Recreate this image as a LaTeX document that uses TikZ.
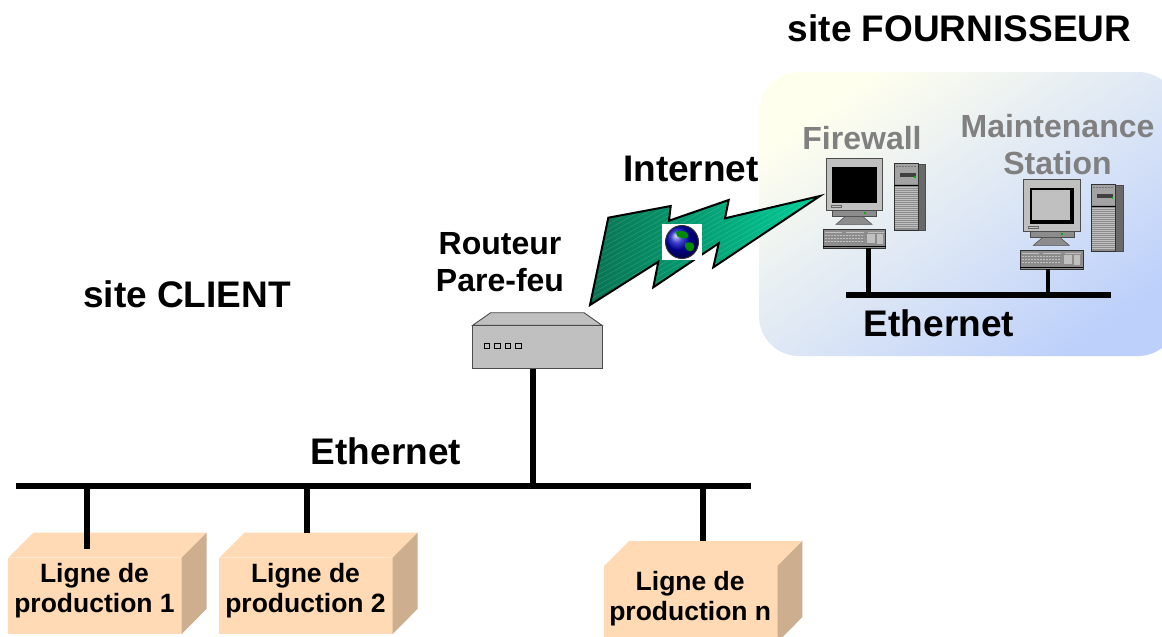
\documentclass[tikz,border=0pt]{standalone}
\usepackage{fontspec}
\setmainfont{Liberation Sans}
\usetikzlibrary{calc,shadings}
\definecolor{peach}{HTML}{FFDAB4}
\definecolor{peachside}{HTML}{CDAE8F}
\definecolor{gbody}{HTML}{C0C0C0}
\definecolor{gdark}{HTML}{8C8C8C}
\definecolor{glabel}{HTML}{808080}
\definecolor{panelA}{HTML}{FFFFEE}
\definecolor{panelB}{HTML}{BDD0FB}
\definecolor{boltA}{HTML}{08704F}
\definecolor{boltB}{HTML}{00D29B}
\tikzset{
  bus/.style={line width=6.5pt,black},
  drop/.style={line width=6pt,black},
  thindrop/.style={line width=4.7pt,black},
  big/.style={font=\bfseries\fontsize{37}{37}\selectfont,inner sep=0pt},
  mid/.style={font=\bfseries\fontsize{32}{37}\selectfont,inner sep=0pt,align=center},
  midgray/.style={mid,text=glabel},
  boxfront/.style={fill=peach,inner sep=0pt,outer sep=0pt,minimum width=173.4pt,minimum height=76.3pt},
  boxtext/.style={inner sep=0pt,align=center,font=\bfseries\fontsize{26.5}{30}\selectfont},
}
\newcommand{\prodbox}[4]{% name, x, y(front top), text
  \node[boxfront,anchor=north west] (#1) at (#2,#3) {};
  \fill[peach] (#1.north west) -- ++(25,-25) -- ++(173.4,0) -- (#1.north east) -- cycle;
  \fill[peachside] (#1.north east) -- ++(25,-25) -- ++(0,76) -- (#1.south east) -- cycle;
  \node[boxtext] (#1text) at ($(#1.center)+(-0.5,-5.5)$) {#4};
}
\newcommand{\pccomputer}[4]{% x, y, name, inner screen colour
  \begin{scope}[shift={(#1,#2)}]
    % tower
    \fill[gdark!75!black,draw=black!70,line width=0.7pt] (92.3,6) rectangle (99.7,71.7);
    \fill[gdark,draw=black!80,line width=0.7pt] (68.3,4.7) rectangle (92.3,71.7);
    \fill[gbody!85!black] (69,5.4) rectangle (91.6,26);
    \draw[black,line width=1pt] (68.3,26.7) -- (92.3,26.7);
    \fill[black!75] (74,14.3) rectangle (89.7,18.3);
    \fill[green!70!black] (88.2,17.5) rectangle (89.8,19.3);
    \foreach \ty in {29,31,...,69}{\draw[gbody,line width=0.6pt] (69,\ty) -- (91.6,\ty);}
    \draw[black!55,line width=0.8pt,dash pattern=on 2pt off 1pt] (70,8) -- (90,8);
    % monitor
    \fill[gdark,draw=black!70,line width=0.7pt] (6.7,52.4) rectangle (50.7,58.4);
    \fill[gdark,draw=black!70,line width=0.5pt] (19,58.4) -- (37,58.4) -- (46,66) -- (10,66) -- cycle;
    \fill[gbody,draw=black!70,line width=0.8pt] (0,0) rectangle (56.7,52.4);
    \fill[black] (6.3,8.4) rectangle (50.7,45);
    \fill[#4] (8.4,10.4) rectangle (46.7,41);
    \draw[black!60,line width=0.5pt] (5,47) rectangle (15,49.3);
    \fill[green!70!black] (38,53.5) rectangle (40,55.5);
    % keyboard
    \node[fill=gdark,draw=black!80,line width=0.8pt,inner sep=0pt,outer sep=0pt,
          minimum width=62.7pt,minimum height=18.7pt,anchor=north west] (#3) at (-3,71) {};
    \draw[gbody,line width=1pt] (-1,74) -- (16,74) (20,74) -- (38,74) (42,74) -- (58,74);
    \draw[gbody,line width=1pt,dash pattern=on 2pt off 1pt] (-1,77) -- (38,77) (-1,80) -- (38,80) (-1,83) -- (38,83);
    \fill[gbody] (41,76) rectangle (49,85);
    \fill[gbody] (51,76) rectangle (57,86);
    \draw[black,line width=1pt] (-3,87.8) -- (59.7,87.8);
  \end{scope}
}
\begin{document}
\begin{tikzpicture}[x=1pt,y=-1pt]
\clip (0,0) rectangle (1162,637);
\fill[white] (0,0) rectangle (1162,637);
% supplier panel
\shade[left color=panelA,right color=panelB,shading angle=35,rounded corners=40pt]
  (759,72) rectangle (1178,356);

% lightning
\coordinate (b1) at (590,305);
\coordinate (b2) at (608.3,217.7);
\coordinate (b3) at (670.7,206);
\coordinate (b4) at (669,220.7);
\coordinate (b5) at (728.7,200);
\coordinate (b6) at (725,218.3);
\coordinate (b7) at (820,196);
\coordinate (b8) at (713.3,267.3);
\coordinate (b9) at (718.7,243.3);
\coordinate (b10) at (653.3,287.3);
\coordinate (b11) at (658.3,261.7);
\begin{scope}
  \clip (b1) -- (b2) -- (b3) -- (b4) -- (b5) -- (b6) -- (b7) -- (b8) -- (b9) -- (b10) -- (b11) -- cycle;
  \shade[left color=boltA,right color=boltB] (585,190) rectangle (825,310);
  \foreach \k in {0,5,...,200}{\draw[white,opacity=0.14,line width=0.6pt] (580,200+\k) -- (830,60+\k);}
\end{scope}
\draw[black,line width=2pt,line join=miter,miter limit=10] (b1) -- (b2) -- (b3) -- (b4) -- (b5) -- (b6) -- (b7) -- (b8) -- (b9) -- (b10) -- (b11) -- cycle;

% globe
\node[fill=white,inner sep=0pt,minimum width=40pt,minimum height=36pt] (globebox) at (682,242) {};
\shade[ball color=blue!75!black] (globebox.center) circle (16.5pt);
\fill[green!55!black] (676,232) .. controls (684,229) and (690,233) .. (688,237) .. controls (686,240) and (680,238) .. (677,236) -- cycle;
\fill[green!55!black] (685,243) .. controls (693,241) and (696,244) .. (693,250) .. controls (689,254) and (684,249) .. (685,243) -- cycle;
\draw[black!80,line width=1pt] (globebox.center) circle (16.5pt);

% router
\node[fill=gbody,draw=black!70,line width=0.9pt,inner sep=0pt,outer sep=0pt,minimum width=129.3pt,minimum height=43.4pt,anchor=north west] (router) at (472.7,325.3) {};
\draw[fill=gbody,draw=black!70,line width=0.9pt] (router.north west) -- (490.7,312.7) -- (584,312.7) -- (router.north east) -- cycle;
\foreach \lx in {484.3,494.8,505,515.4}{\draw[black,line width=0.9pt,fill=gbody] (\lx,343.2) rectangle ++(5.6,5.6);}

% production lines
\prodbox{ligneA}{8.3}{557.7}{Ligne de\\production 1}
\prodbox{ligneB}{219.3}{557.7}{Ligne de\\production 2}
\prodbox{ligneN}{604}{566}{Ligne de\\production n}

% client Ethernet
\coordinate (busL) at (16,486);
\coordinate (busR) at (751,486);
\coordinate (tapA) at (87,486);
\coordinate (tapB) at (307,486);
\coordinate (tapR) at (533,486);
\coordinate (tapN) at (703,486);
\coordinate (endA) at (87,549);
\coordinate (endB) at (307,532.7);
\coordinate (endN) at (703,541);
\draw[bus] (busL) -- (busR);
\draw[drop] (tapA) -- (endA);
\draw[drop] (tapB) -- (endB);
\draw[drop] (router.south -| tapR) -- (tapR);
\draw[drop] (tapN) -- (endN);

% computers
\pccomputer{826}{158.3}{fwkb}{black}
\pccomputer{1023.3}{179.3}{mskb}{gbody}
\coordinate (sbusL) at (846,295);
\coordinate (sbusR) at (1110.7,295);
\coordinate (tapF) at (868.7,295);
\coordinate (tapM) at (1048,295);
\draw[bus] (sbusL) -- (sbusR);
\draw[thindrop] (fwkb.south -| tapF) -- (tapF);
\draw[thindrop] (mskb.south -| tapM) -- (tapM);

% labels
\node[big,anchor=base] (tsf) at (959.5,41) {site FOURNISSEUR};
\node[big,anchor=base] (tsc) at (187,307) {site CLIENT};
\node[big,anchor=base] (tin) at (691,181) {Internet};
\node[big,anchor=base] (te1) at (386,464) {Ethernet};
\node[big,anchor=base] (te2) at (939,336) {Ethernet};
\node[mid] (trt) at (500,262.5) {Routeur\\Pare-feu};
\node[midgray,anchor=base] (tfw) at (862,149) {Firewall};
\node[midgray] (tms) at (1057.5,145) {Maintenance\\Station};
\end{tikzpicture}
\end{document}
